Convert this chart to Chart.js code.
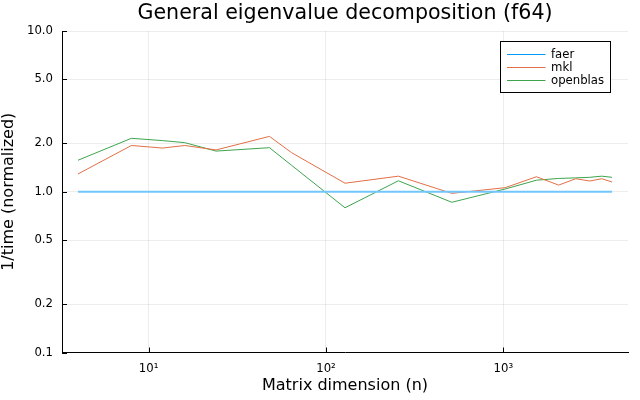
<!DOCTYPE html>
<html lang="en">
<head>
  <meta charset="UTF-8">
  <title>General eigenvalue decomposition (f64)</title>
  <script src="https://cdn.jsdelivr.net/npm/chart.js"></script>
  <style>
    html, body { margin: 0; padding: 0; background: #fff; }
  </style>
</head>
<body>
  <canvas id="eigChart" width="640" height="400"></canvas>

  <script>
    // matrix sizes (n) and normalized 1/time per library
    const sizes = [4, 8, 12, 16, 24, 48, 64, 128, 256, 512, 1024, 1536, 2048, 2560, 3072, 3584, 4096];
    const faer = [1, 1, 1, 1, 1, 1, 1, 1, 1, 1, 1, 1, 1, 1, 1, 1, 1];
    const mkl = [1.29, 1.94, 1.87, 1.94, 1.82, 2.21, 1.75, 1.13, 1.25, 0.977, 1.06, 1.24, 1.10, 1.205, 1.166, 1.205, 1.15];
    const openblas = [1.57, 2.15, 2.08, 2.02, 1.79, 1.88, 1.46, 0.795, 1.17, 0.86, 1.04, 1.18, 1.21, 1.22, 1.23, 1.25, 1.23];

    const chartTitle = 'General eigenvalue decomposition (f64)';
    const seriesNames = ['faer', 'mkl', 'openblas'];
    const seriesColors = ['#009afa', '#e26f46', '#3da44d'];
    const xTicks = [10, 100, 1000];
    const xTickLabels = ['10¹', '10²', '10³'];
    const yTicks = [0.1, 0.2, 0.5, 1, 2, 5, 10];

    Chart.defaults.font.family = "'DejaVu Sans', sans-serif";
    Chart.defaults.color = '#000';

    const toPoints = vals => sizes.map((n, i) => ({ x: n, y: vals[i] }));

    // title over the plot area, inward tick marks, boxed legend (GR look)
    const grExtras = {
      id: 'grExtras',
      afterDraw(chart) {
        const ctx = chart.ctx;
        const { left, bottom, right, top } = chart.chartArea;
        const xs = chart.scales.x, ys = chart.scales.y;
        ctx.save();

        ctx.fillStyle = '#000';
        ctx.font = "20.6px 'DejaVu Sans'";
        ctx.textAlign = 'center';
        ctx.textBaseline = 'alphabetic';
        ctx.fillText(chartTitle, (left + right) / 2, 18.5);

        ctx.strokeStyle = '#000';
        ctx.lineWidth = 1;
        ctx.beginPath();
        yTicks.forEach(v => {
          const py = Math.round(ys.getPixelForValue(v)) + 0.5;
          ctx.moveTo(left, py); ctx.lineTo(left + 5, py);
        });
        xTicks.forEach(v => {
          const px = Math.round(xs.getPixelForValue(v)) + 0.5;
          ctx.moveTo(px, bottom); ctx.lineTo(px, bottom - 5);
        });
        ctx.stroke();

        // legend
        const bx = Math.round(right - 128.5) + 0.5, by = Math.round(top + 9.5) + 0.5;
        ctx.fillStyle = '#fff';
        ctx.fillRect(bx, by, 110, 51);
        ctx.strokeRect(bx, by, 110, 51);
        ctx.font = "11.7px 'DejaVu Sans'";
        ctx.textAlign = 'left';
        ctx.textBaseline = 'middle';
        chart.data.datasets.forEach((ds, i) => {
          const ly = by + 13 + i * 13;
          ctx.strokeStyle = seriesColors[i];
          ctx.beginPath();
          ctx.moveTo(bx + 6.5, ly); ctx.lineTo(bx + 45, ly);
          ctx.stroke();
          ctx.fillStyle = '#000';
          ctx.fillText(ds.label, bx + 50.5, ly);
        });
        ctx.restore();
      }
    };

    const eigChart = new Chart(document.getElementById('eigChart'), {
      type: 'line',
      data: {
        datasets: [faer, mkl, openblas].map((vals, i) => ({
          label: seriesNames[i],
          data: toPoints(vals),
          borderColor: i === 0 ? '#72c6fc' : seriesColors[i],
          backgroundColor: seriesColors[i],
          borderWidth: i === 0 ? 2 : 1,
          pointRadius: 0,
          tension: 0
        }))
      },
      options: {
        responsive: false,
        animation: false,
        devicePixelRatio: 1,
        layout: { padding: { left: 0, right: 12, top: 31, bottom: 0 } },
        plugins: {
          legend: { display: false },
          tooltip: { enabled: false },
          title: { display: false }
        },
        scales: {
          x: {
            type: 'logarithmic',
            min: 3.25,
            max: 5040,
            afterBuildTicks: s => { s.ticks = xTicks.map(v => ({ value: v })); },
            afterFit: s => { s.height = 47.5; },
            ticks: {
              autoSkip: false,
              maxRotation: 0,
              padding: 9,
              font: { size: 11.7 },
              callback: (v, i) => xTickLabels[i]
            },
            grid: { color: 'rgba(0,0,0,0.07)', drawTicks: false },
            border: { display: true, color: '#000', width: 1 },
            title: {
              display: true,
              text: 'Matrix dimension (n)',
              font: { size: 16, lineHeight: 1 },
              padding: { top: 0, bottom: 6 }
            }
          },
          y: {
            type: 'logarithmic',
            min: 0.1,
            max: 10,
            afterBuildTicks: s => { s.ticks = yTicks.map(v => ({ value: v })); },
            afterFit: s => { s.width = 62; },
            ticks: {
              autoSkip: false,
              padding: 9,
              font: { size: 11.7 },
              callback: v => Number(v).toFixed(1)
            },
            grid: { color: 'rgba(0,0,0,0.07)', drawTicks: false },
            border: { display: true, color: '#000', width: 1 },
            title: {
              display: true,
              text: '1/time (normalized)',
              font: { size: 16, lineHeight: 1 },
              padding: { top: 1, bottom: 0 }
            }
          }
        }
      },
      plugins: [grExtras]
    });
  </script>
</body>
</html>
